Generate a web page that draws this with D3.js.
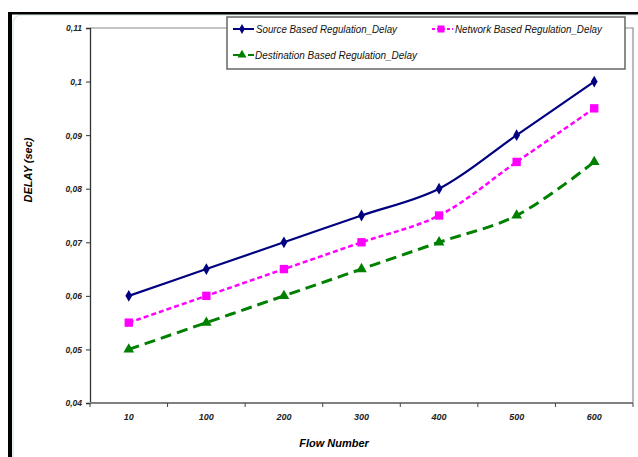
<!DOCTYPE html>
<html>
<head>
<meta charset="utf-8">
<script src="https://cdn.jsdelivr.net/npm/d3@7"></script>
<style>
    body { margin: 0; background: #fff; }
    svg text { font-family: "Liberation Sans", Arial, sans-serif; }
</style>
</head>
<body>
<svg id="chart" width="638" height="457"></svg>
<script>
// chart data
const categories = ["10", "100", "200", "300", "400", "500", "600"];
const sourceDelay = [0.06, 0.065, 0.07, 0.075, 0.08, 0.09, 0.1];
const networkDelay = [0.055, 0.06, 0.065, 0.07, 0.075, 0.085, 0.095];
const destinationDelay = [0.05, 0.055, 0.06, 0.065, 0.07, 0.075, 0.085];
const yTicks = [0.04, 0.05, 0.06, 0.07, 0.08, 0.09, 0.1, 0.11];

const series = [
    { name: "Source Based Regulation_Delay", values: sourceDelay, color: "#000080", dash: null, width: 2.2, shape: d3.symbolDiamond, size: 40 },
    { name: "Network Based Regulation_Delay", values: networkDelay, color: "#FF00FF", dash: "5,3", width: 2.5, shape: d3.symbolSquare, size: 70 },
    { name: "Destination Based Regulation_Delay", values: destinationDelay, color: "#008000", dash: "11,6", width: 3, shape: d3.symbolTriangle, size: 50 }
];

const svg = d3.select("#chart");

// outer frame: black left and top edges, light rounded inner border
svg.append("rect")
    .attr("x", 13).attr("y", 15).attr("width", 640).attr("height", 460)
    .attr("rx", 8)
    .attr("fill", "none").attr("stroke", "#d6e6e6").attr("stroke-width", 1.2);
svg.append("rect").attr("x", 8).attr("y", 12).attr("width", 4).attr("height", 445).attr("fill", "#000");
svg.append("rect").attr("x", 8).attr("y", 12).attr("width", 630).attr("height", 2.5).attr("fill", "#000");

const plotLeft = 90, plotRight = 633, plotTop = 28, plotBottom = 403;

const x = d3.scaleBand().domain(categories).range([plotLeft, plotRight]).padding(0);
const y = d3.scaleLinear().domain([0.04, 0.11]).range([plotBottom, plotTop]);
const cx = c => x(c) + x.bandwidth() / 2;

// plot area border (top and right)
svg.append("path")
    .attr("d", `M${plotLeft},${plotTop}H${plotRight}V${plotBottom}`)
    .attr("fill", "none").attr("stroke", "#8c8c8c").attr("stroke-width", 1.2);

// y axis
const yAxis = svg.append("g")
    .attr("transform", `translate(${plotLeft},0)`)
    .call(d3.axisLeft(y).tickValues(yTicks).tickSize(4).tickPadding(4)
        .tickFormat(v => String(+v.toFixed(2)).replace(".", ",")));
yAxis.select(".domain").attr("stroke", "#333").attr("stroke-width", 1.3);
yAxis.selectAll(".tick line").attr("stroke", "#333");
yAxis.selectAll("text")
    .attr("font-size", 8.5).attr("font-weight", "bold").attr("font-style", "italic")
    .attr("fill", "#222").attr("dy", "0.35em");

// x axis: ticks on category boundaries, labels centred
const xAxis = svg.append("g").attr("transform", `translate(0,${plotBottom})`);
xAxis.append("line")
    .attr("x1", plotLeft).attr("x2", plotRight)
    .attr("stroke", "#808080").attr("stroke-width", 2);
const bounds = categories.map(c => x(c)).concat([plotRight]);
xAxis.selectAll("line.tk").data(bounds).enter().append("line")
    .attr("class", "tk")
    .attr("x1", d => d).attr("x2", d => d).attr("y1", 0).attr("y2", 4)
    .attr("stroke", "#444").attr("stroke-width", 1);
xAxis.selectAll("text").data(categories).enter().append("text")
    .attr("x", d => cx(d)).attr("y", 17)
    .attr("text-anchor", "middle")
    .attr("font-size", 9).attr("font-weight", "bold").attr("font-style", "italic")
    .attr("fill", "#222")
    .text(d => d);

// axis titles
svg.append("text")
    .attr("x", 334).attr("y", 447)
    .attr("text-anchor", "middle")
    .attr("font-size", 11).attr("font-weight", "bold").attr("font-style", "italic")
    .text("Flow Number");
svg.append("text")
    .attr("transform", "translate(32,170) rotate(-90)")
    .attr("text-anchor", "middle")
    .attr("font-size", 11).attr("font-weight", "bold").attr("font-style", "italic")
    .text("DELAY (sec)");

// lines and markers
const line = d3.line()
    .x((d, i) => cx(categories[i]))
    .y(d => y(d))
    .curve(d3.curveCatmullRom.alpha(0.5));

series.forEach(s => {
    svg.append("path")
        .datum(s.values)
        .attr("d", line)
        .attr("fill", "none")
        .attr("stroke", s.color)
        .attr("stroke-width", s.width)
        .attr("stroke-dasharray", s.dash);
    svg.append("g").selectAll("path").data(s.values).enter().append("path")
        .attr("transform", (d, i) => `translate(${cx(categories[i])},${y(d)})`)
        .attr("d", d3.symbol().type(s.shape).size(s.size))
        .attr("fill", s.color);
});

// legend
const legend = svg.append("g");
legend.append("rect")
    .attr("x", 227).attr("y", 17).attr("width", 398).attr("height", 52)
    .attr("fill", "#fff").attr("stroke", "#666").attr("stroke-width", 1.5);
const legendPos = [
    { x: 233, y: 29, tx: 256, tw: 141 },
    { x: 432, y: 29, tx: 455, tw: 147 },
    { x: 233, y: 55, tx: 255, tw: 162 }
];
series.forEach((s, i) => {
    const p = legendPos[i];
    legend.append("line")
        .attr("x1", p.x).attr("x2", p.x + 21).attr("y1", p.y).attr("y2", p.y)
        .attr("stroke", s.color).attr("stroke-width", 2)
        .attr("stroke-dasharray", s.dash ? (i === 2 ? "10,5" : "3,2") : null);
    legend.append("path")
        .attr("transform", `translate(${p.x + 9},${p.y})`)
        .attr("d", d3.symbol().type(s.shape).size(s.size * 0.7))
        .attr("fill", s.color);
    legend.append("text")
        .attr("x", p.tx).attr("y", p.y + 4)
        .attr("font-size", 11).attr("font-style", "italic")
        .attr("textLength", p.tw).attr("lengthAdjust", "spacingAndGlyphs")
        .attr("fill", "#111")
        .text(s.name);
});
</script>
</body>
</html>
